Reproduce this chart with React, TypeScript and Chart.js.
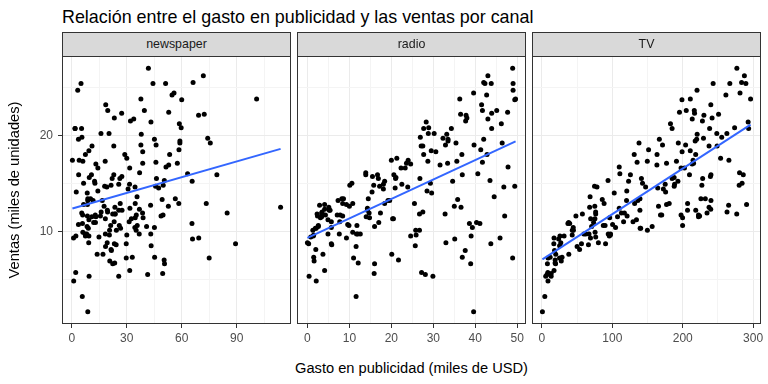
import React, { useEffect, useRef } from "react";
import { Chart, registerables } from "chart.js";

Chart.register(...registerables);

// ---- Data (Advertising dataset) ----
const tv = [
  230.1, 44.5, 17.2, 151.5, 180.8, 8.7, 57.5, 120.2, 8.6, 199.8,
  66.1, 214.7, 23.8, 97.5, 204.1, 195.4, 67.8, 281.4, 69.2, 147.3,
  218.4, 237.4, 13.2, 228.3, 62.3, 262.9, 142.9, 240.1, 248.8, 70.6,
  292.9, 112.9, 97.2, 265.6, 95.7, 290.7, 266.9, 74.7, 43.1, 228,
  202.5, 177, 293.6, 206.9, 25.1, 175.1, 89.7, 239.9, 227.2, 66.9,
  199.8, 100.4, 216.4, 182.6, 262.7, 198.9, 7.3, 136.2, 210.8, 210.7,
  53.5, 261.3, 239.3, 102.7, 131.1, 69, 31.5, 139.3, 237.4, 216.8,
  199.1, 109.8, 26.8, 129.4, 213.4, 16.9, 27.5, 120.5, 5.4, 116,
  76.4, 239.8, 75.3, 68.4, 213.5, 193.2, 76.3, 110.7, 88.3, 109.8,
  134.3, 28.6, 217.7, 250.9, 107.4, 163.3, 197.6, 184.9, 289.7, 135.2,
  222.4, 296.4, 280.2, 187.9, 238.2, 137.9, 25, 90.4, 13.1, 255.4,
  225.8, 241.7, 175.7, 209.6, 78.2, 75.1, 139.2, 76.4, 125.7, 19.4,
  141.3, 18.8, 224, 123.1, 229.5, 87.2, 7.8, 80.2, 220.3, 59.6,
  0.7, 265.2, 8.4, 219.8, 36.9, 48.3, 25.6, 273.7, 43, 184.9,
  73.4, 193.7, 220.5, 104.6, 96.2, 140.3, 240.1, 243.2, 38, 44.7,
  280.7, 121, 197.6, 171.3, 187.8, 4.1, 93.9, 149.8, 11.7, 131.7,
  172.5, 85.7, 188.4, 163.5, 117.2, 234.5, 17.9, 206.8, 215.4, 284.3,
  50, 164.5, 19.6, 168.4, 222.4, 276.9, 248.4, 170.2, 276.7, 165.6,
  156.6, 218.5, 56.2, 287.6, 253.8, 205, 139.5, 191.1, 286, 18.7,
  39.5, 75.5, 17.2, 166.8, 149.7, 38.2, 94.2, 177, 283.6, 232.1,
];

const radio = [
  37.8, 39.3, 45.9, 41.3, 10.8, 48.9, 32.8, 19.6, 2.1, 2.6,
  5.8, 24, 35.1, 7.6, 32.9, 47.7, 36.6, 39.6, 20.5, 23.9,
  27.7, 5.1, 15.9, 16.9, 12.6, 3.5, 29.3, 16.7, 27.1, 16,
  28.3, 17.4, 1.5, 20, 1.4, 4.1, 43.8, 49.4, 26.7, 37.7,
  22.3, 33.4, 27.7, 8.4, 25.7, 22.5, 9.9, 41.5, 15.8, 11.7,
  3.1, 9.6, 41.7, 46.2, 28.8, 49.4, 28.1, 19.2, 49.6, 29.5,
  2, 42.7, 15.5, 29.6, 42.8, 9.3, 24.6, 14.5, 27.5, 43.9,
  30.6, 14.3, 33, 5.7, 24.6, 43.7, 1.6, 28.5, 29.9, 7.7,
  26.7, 4.1, 20.3, 44.5, 43, 18.4, 27.5, 40.6, 25.5, 47.8,
  4.9, 1.5, 33.5, 36.5, 14, 31.6, 3.5, 21, 42.3, 41.7,
  4.3, 36.3, 10.1, 17.2, 34.3, 46.4, 11, 0.3, 0.4, 26.9,
  8.2, 38, 15.4, 20.6, 46.8, 35, 14.3, 0.8, 36.9, 16,
  26.8, 21.7, 2.4, 34.6, 32.3, 11.8, 38.9, 0, 49, 12,
  39.6, 2.9, 27.2, 33.5, 38.6, 47, 39, 28.9, 25.9, 43.9,
  17, 35.4, 33.2, 5.7, 14.8, 1.9, 7.3, 49, 40.3, 25.8,
  13.9, 8.4, 23.3, 39.7, 21.1, 11.6, 43.5, 1.3, 36.9, 18.4,
  18.1, 35.8, 18.1, 36.8, 14.7, 3.4, 37.6, 5.2, 23.6, 10.6,
  11.6, 20.9, 20.1, 7.1, 3.4, 48.9, 30.2, 7.8, 2.3, 10,
  2.6, 5.4, 5.7, 43, 21.3, 45.1, 2.1, 28.7, 13.9, 12.1,
  41.1, 10.8, 4.1, 42, 35.6, 3.7, 4.9, 9.3, 42, 8.6,
];

const newspaper = [
  69.2, 45.1, 69.3, 58.5, 58.4, 75, 23.5, 11.6, 1, 21.2,
  24.2, 4, 65.9, 7.2, 46, 52.9, 114, 55.8, 18.3, 19.1,
  53.4, 23.5, 49.6, 26.2, 18.3, 19.5, 12.6, 22.9, 22.9, 40.8,
  43.2, 38.6, 30, 0.3, 7.4, 8.5, 5, 45.7, 35.1, 32,
  31.6, 38.7, 1.8, 26.4, 43.3, 31.5, 35.7, 18.5, 49.9, 36.8,
  34.6, 3.6, 39.6, 58.7, 15.9, 60, 41.4, 16.6, 37.7, 9.3,
  21.4, 54.7, 27.3, 8.4, 28.9, 0.9, 2.2, 10.2, 11, 27.2,
  38.7, 31.7, 19.3, 31.3, 13.1, 89.4, 20.7, 14.2, 9.4, 23.1,
  22.3, 36.9, 32.5, 35.6, 33.8, 65.7, 16, 63.2, 73.4, 51.4,
  9.3, 33, 59, 72.3, 10.9, 52.9, 5.9, 22, 51.2, 45.9,
  49.8, 100.9, 21.4, 17.9, 5.3, 59, 29.7, 23.2, 25.6, 5.5,
  56.5, 23.2, 2.4, 10.7, 34.5, 52.7, 25.6, 14.8, 79.2, 22.3,
  46.2, 50.4, 15.6, 12.4, 74.2, 25.9, 50.6, 9.2, 3.2, 43.1,
  8.7, 43, 2.1, 45.1, 65.6, 8.5, 9.3, 59.7, 20.5, 1.7,
  12.9, 75.6, 37.9, 34.4, 38.9, 9, 8.7, 44.3, 11.9, 20.6,
  37, 48.7, 14.2, 37.7, 9.5, 5.7, 50.5, 24.3, 45.2, 34.6,
  30.7, 49.3, 25.6, 7.4, 5.4, 84.8, 21.6, 19.4, 57.6, 6.4,
  18.4, 47.4, 17, 12.8, 13.1, 41.8, 20.3, 35.2, 23.7, 17.6,
  8.3, 27.4, 29.7, 71.8, 30, 19.6, 26.6, 18.2, 3.7, 23.4,
  5.8, 6, 31.6, 3.6, 6, 13.8, 8.1, 6.4, 66.2, 8.7,
];

const sales = [
  22.1, 10.4, 9.3, 18.5, 12.9, 7.2, 11.8, 13.2, 4.8, 10.6,
  8.6, 17.4, 9.2, 9.7, 19, 22.4, 12.5, 24.4, 11.3, 14.6,
  18, 12.5, 5.6, 15.5, 9.7, 12, 15, 15.9, 18.9, 10.5,
  21.4, 11.9, 9.6, 17.4, 9.5, 12.8, 25.4, 14.7, 10.1, 21.5,
  16.6, 17.1, 20.7, 12.9, 8.5, 14.9, 10.6, 23.2, 14.8, 9.7,
  11.4, 10.7, 22.6, 21.2, 20.2, 23.7, 5.5, 13.2, 23.8, 18.4,
  8.1, 24.2, 15.7, 14, 18, 9.3, 9.5, 13.4, 18.9, 22.3,
  18.3, 12.4, 8.8, 11, 17, 8.7, 6.9, 14.2, 5.3, 11,
  11.8, 12.3, 11.3, 13.6, 21.7, 15.2, 12, 16, 12.9, 16.7,
  11.2, 7.3, 19.4, 22.2, 11.5, 16.9, 11.7, 15.5, 25.4, 17.2,
  11.7, 23.8, 14.8, 14.7, 20.7, 19.2, 7.2, 8.7, 5.3, 19.8,
  13.4, 21.8, 14.1, 15.9, 14.6, 12.6, 12.2, 9.4, 15.9, 6.6,
  15.5, 7, 11.6, 15.2, 19.7, 10.6, 6.6, 8.8, 24.7, 9.7,
  1.6, 12.7, 5.7, 19.6, 10.8, 11.6, 9.5, 20.8, 9.6, 20.7,
  10.9, 19.2, 20.1, 10.4, 11.4, 10.3, 13.2, 25.4, 10.9, 10.1,
  16.1, 11.6, 16.6, 19, 15.6, 3.2, 15.3, 10.1, 7.3, 12.9,
  14.4, 13.3, 14.9, 18, 11.9, 11.9, 8, 12.2, 17.1, 15,
  8.4, 14.5, 7.6, 11.7, 11.5, 27, 20.2, 11.7, 11.8, 12.6,
  10.5, 12.2, 8.7, 26.2, 17.6, 22.6, 10.3, 17.3, 15.9, 6.7,
  10.8, 9.9, 5.9, 19.6, 17.3, 7.6, 9.7, 12.8, 25.5, 13.4,
];

// Fitted linear-trend endpoints (geom_smooth, method = "lm")
const fitNewspaperX = [0.3, 114];
const fitNewspaperY = [12.37, 18.59];
const fitRadioX = [0, 49.6];
const fitRadioY = [9.31, 19.36];
const fitTvX = [0.7, 296.4];
const fitTvY = [7.07, 21.12];

// Tick labels
const newspaperMajor = [0, 30, 60, 90];
const newspaperMinor = [15, 45, 75, 105];
const radioMajor = [0, 10, 20, 30, 40, 50];
const radioMinor = [5, 15, 25, 35, 45];
const tvMajor = [0, 100, 200, 300];
const tvMinor = [50, 150, 250];
const yMajor = [10, 20];
const yMinor = [5, 15, 25];

const panelLabels = ["newspaper", "radio", "TV"];
const titleText = "Relación entre el gasto en publicidad y las ventas por canal";
const xTitle = "Gasto en publicidad (miles de USD)";
const yTitle = "Ventas (miles de unidades)";

// ---- Layout ----
const FONT = '"Liberation Sans", Arial, Helvetica, sans-serif';
const PANEL_TOP = 56;
const PANEL_H = 268;
const PANEL_W = 229;
const PANEL_LEFTS = [62, 297, 532];
const Y_AXIS_W = 62;
const PAD_L = 10;
const PAD_R = 12;
const PAD_T = 16;
const X_AXIS_H = 26;
const PAD_B = 2;

function expand(values: number[]) {
  const lo = Math.min(...values);
  const hi = Math.max(...values);
  const d = (hi - lo) * 0.05;
  return [lo - d, hi + d];
}

const panelBorder = {
  id: "panelBorder",
  afterDraw(chart: any) {
    const { ctx, chartArea } = chart;
    const { left, top, right, bottom } = chartArea;
    ctx.save();
    ctx.strokeStyle = "#333333";
    ctx.lineWidth = 1;
    ctx.strokeRect(left + 0.5, top + 0.5, right - left - 1, bottom - top - 1);
    ctx.restore();
  },
};

function makeChart(
  canvas: HTMLCanvasElement,
  xs: number[],
  fitX: number[],
  fitY: number[],
  major: number[],
  minor: number[],
  first: boolean
) {
  const [xmin, xmax] = expand(xs);
  const [ymin, ymax] = expand(sales);
  const allX = [...major, ...minor].sort((a, b) => a - b);
  const allY = [...yMajor, ...yMinor].sort((a, b) => a - b);
  const tickFont = { family: FONT, size: 12 };
  const gridColor = (maj: number[]) => (ctx: any) =>
    ctx.tick && maj.includes(ctx.tick.value) ? "#EBEBEB" : "#F4F4F4";
  const tickColor = (maj: number[]) => (ctx: any) =>
    ctx.tick && maj.includes(ctx.tick.value) ? "#333333" : "rgba(0,0,0,0)";

  return new Chart(canvas, {
    type: "scatter",
    data: {
      datasets: [
        {
          type: "line",
          data: fitX.map((x, i) => ({ x, y: fitY[i] })),
          borderColor: "#3366FF",
          borderWidth: 2,
          pointRadius: 0,
          fill: false,
          tension: 0,
        } as any,
        {
          type: "scatter",
          data: xs.map((x, i) => ({ x, y: sales[i] })),
          backgroundColor: "#000000",
          borderColor: "#000000",
          borderWidth: 0,
          pointRadius: 2.5,
        },
      ],
    },
    options: {
      responsive: false,
      animation: false,
      events: [],
      layout: {
        padding: { left: first ? 0 : PAD_L, right: PAD_R, top: PAD_T, bottom: PAD_B },
      },
      plugins: {
        legend: { display: false },
        tooltip: { enabled: false },
        title: { display: false },
      },
      scales: {
        x: {
          type: "linear",
          min: xmin,
          max: xmax,
          afterBuildTicks: (s: any) => {
            s.ticks = allX.map((v) => ({ value: v }));
          },
          afterFit: (s: any) => {
            s.height = X_AXIS_H;
          },
          ticks: {
            autoSkip: false,
            maxRotation: 0,
            minRotation: 0,
            padding: 3,
            color: "#4D4D4D",
            font: tickFont,
            callback: (v: any) => (major.includes(v) ? String(v) : ""),
          },
          grid: {
            color: gridColor(major),
            lineWidth: 1,
            drawTicks: true,
            tickLength: 4,
            tickColor: tickColor(major),
            tickWidth: 1,
          },
          border: { display: false },
        },
        y: {
          type: "linear",
          min: ymin,
          max: ymax,
          afterBuildTicks: (s: any) => {
            s.ticks = allY.map((v) => ({ value: v }));
          },
          afterFit: (s: any) => {
            s.width = first ? Y_AXIS_W : 0;
          },
          ticks: {
            display: first,
            autoSkip: false,
            padding: 5,
            color: "#4D4D4D",
            font: tickFont,
            callback: (v: any) => (yMajor.includes(v) ? String(v) : ""),
          },
          grid: {
            color: gridColor(yMajor),
            lineWidth: 1,
            drawTicks: first,
            tickLength: 4,
            tickColor: tickColor(yMajor),
            tickWidth: 1,
          },
          border: { display: false },
          title: {
            display: first,
            text: yTitle,
            color: "#000000",
            font: { family: FONT, size: 14.67 },
            padding: { top: 6, bottom: 0 },
          },
        },
      },
    },
    plugins: [panelBorder],
  } as any);
}

export default function App() {
  const refs = [
    useRef<HTMLCanvasElement>(null),
    useRef<HTMLCanvasElement>(null),
    useRef<HTMLCanvasElement>(null),
  ];

  useEffect(() => {
    const specs = [
      { xs: newspaper, fx: fitNewspaperX, fy: fitNewspaperY, maj: newspaperMajor, min: newspaperMinor },
      { xs: radio, fx: fitRadioX, fy: fitRadioY, maj: radioMajor, min: radioMinor },
      { xs: tv, fx: fitTvX, fy: fitTvY, maj: tvMajor, min: tvMinor },
    ];
    const charts = specs.map((s, i) =>
      makeChart(refs[i].current as HTMLCanvasElement, s.xs, s.fx, s.fy, s.maj, s.min, i === 0)
    );
    return () => charts.forEach((c) => c.destroy());
  }, []);

  const canvasH = PAD_T + PANEL_H + X_AXIS_H + PAD_B;

  return (
    <div
      style={{
        position: "fixed",
        left: 0,
        top: 0,
        width: 768,
        height: 384,
        background: "#ffffff",
        overflow: "hidden",
        fontFamily: FONT,
      }}
    >
      {PANEL_LEFTS.map((pl, i) => {
        const left = i === 0 ? 0 : pl - PAD_L;
        const w = (i === 0 ? Y_AXIS_W : PAD_L) + PANEL_W + PAD_R;
        return (
          <canvas
            key={"c" + i}
            ref={refs[i]}
            width={w}
            height={canvasH}
            style={{
              position: "absolute",
              left,
              top: PANEL_TOP - PAD_T,
              width: w,
              height: canvasH,
            }}
          />
        );
      })}
      {PANEL_LEFTS.map((pl, i) => (
        <div
          key={"s" + i}
          style={{
            position: "absolute",
            left: pl,
            top: 32,
            width: PANEL_W,
            height: 25,
            boxSizing: "border-box",
            border: "1px solid #333333",
            background: "#D9D9D9",
            color: "#1A1A1A",
            fontSize: 12.4,
            lineHeight: "22px",
            textAlign: "center",
            whiteSpace: "nowrap",
          }}
        >
          {panelLabels[i]}
        </div>
      ))}
      <div
        style={{
          position: "absolute",
          left: 62,
          top: 7,
          fontSize: 17.9,
          lineHeight: "20px",
          color: "#000000",
          whiteSpace: "nowrap",
        }}
      >
        {titleText}
      </div>
      <div
        style={{
          position: "absolute",
          left: 62,
          width: 699,
          top: 360,
          fontSize: 14.67,
          lineHeight: "17px",
          color: "#000000",
          textAlign: "center",
          whiteSpace: "nowrap",
        }}
      >
        {xTitle}
      </div>
    </div>
  );
}
